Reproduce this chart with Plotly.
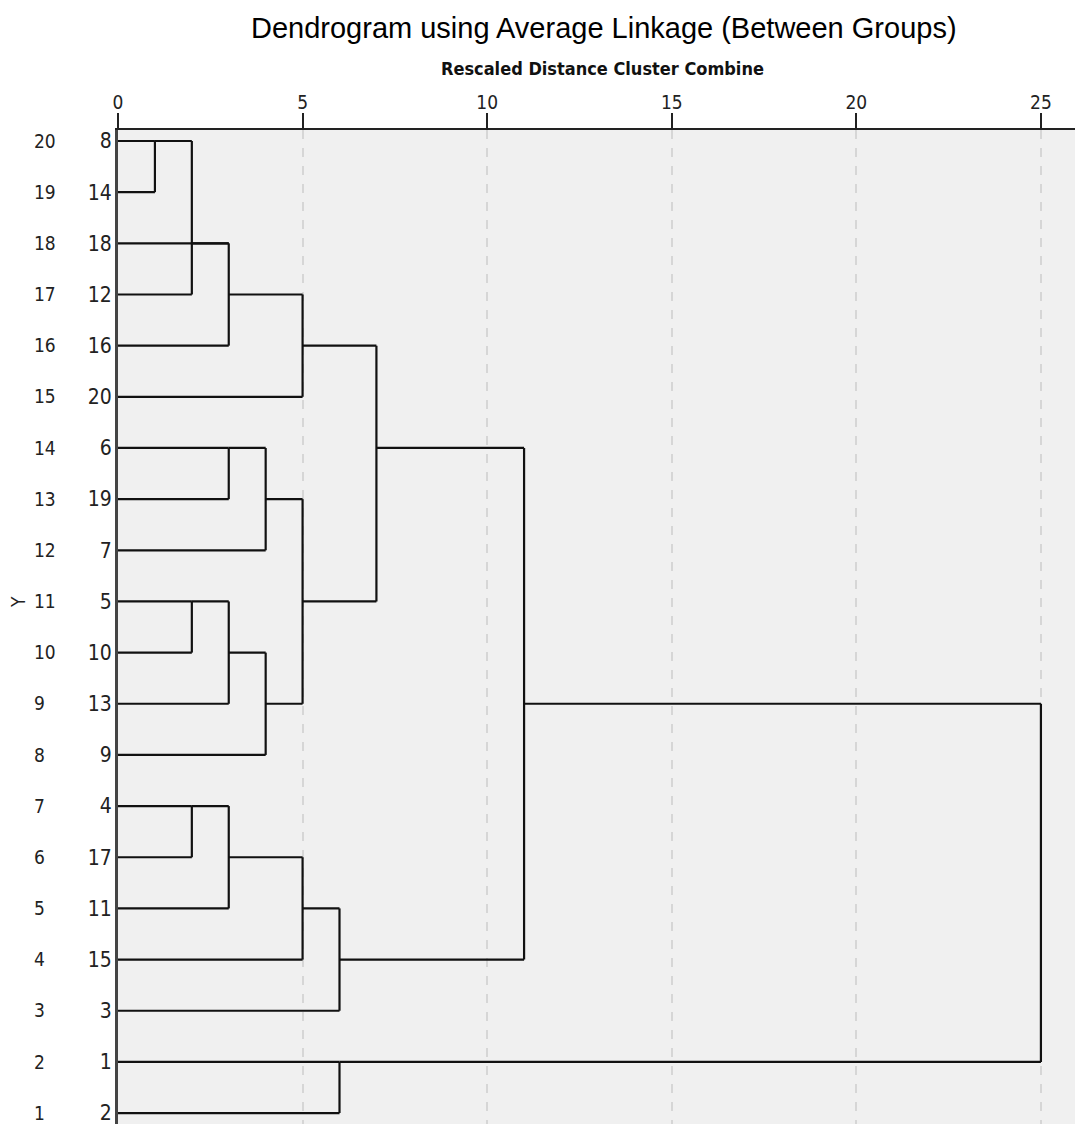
import plotly.graph_objects as go

# ---- data ----
case_labels = ["8", "14", "18", "12", "16", "20", "6", "19", "7", "5",
               "10", "13", "9", "4", "17", "11", "15", "3", "1", "2"]   # top to bottom
row_positions = list(range(20, 0, -1))                                     # 20 .. 1
y_tick_values = list(range(1, 21))
y_tick_labels = [str(v) for v in y_tick_values]
x_tick_values = [0, 5, 10, 15, 20, 25]

# merges: (name, children, rescaled distance, row where the merged branch leaves)
merge_names = ["A", "B", "C", "D", "E", "F", "G", "H", "I", "J", "K", "L", "M", "N", "O", "P", "Q", "R"]
merge_children = [["8", "14"], ["A", "12"], ["B", "18", "16"], ["C", "20"], ["6", "19"],
                  ["E", "7"], ["5", "10"], ["G", "13"], ["H", "9"], ["F", "I"], ["D", "J"],
                  ["4", "17"], ["L", "11"], ["M", "15"], ["N", "3"], ["K", "O"], ["1", "2"], ["P", "Q"]]
merge_distance = [1, 2, 3, 5, 3, 4, 2, 3, 4, 5, 7, 2, 3, 5, 6, 11, 6, 25]
merge_out_row = [20, 18, 17, 16, 14, 13, 11, 10, 9, 11, 14, 7, 6, 5, 4, 9, 2, None]

# ---- build segments ----
node_row = {lab: r for lab, r in zip(case_labels, row_positions)}
node_dist = {lab: 0 for lab in case_labels}
xs, ys = [], []
for name, kids, d, out in zip(merge_names, merge_children, merge_distance, merge_out_row):
    rows = [node_row[k] for k in kids]
    for k in kids:
        xs += [node_dist[k], d, None]
        ys += [node_row[k], node_row[k], None]
    xs += [d, d, None]
    ys += [min(rows), max(rows), None]
    node_row[name] = out
    node_dist[name] = d

# page is drawn with an 8px body margin -> work in figure pixels (page px - 8)
OFF = 8
W, H = 1083 - OFF, 1124 - OFF
L, T = 118 - OFF, 130 - OFF
narrow = "DejaVu Sans Condensed, Liberation Sans Narrow, Arial Narrow, sans-serif"


def px_x(p):
    return (p - OFF) / W


def px_y(p):
    return 1 + (T - (p - OFF)) / (H - T)


fig = go.Figure()
fig.add_trace(go.Scatter(x=xs, y=ys, mode="lines",
                         line=dict(color="#111111", width=2.2),
                         hoverinfo="skip", showlegend=False))
fig.add_trace(go.Scatter(x=[0, 0], y=[1, 20], yaxis="y2", mode="markers",
                         marker=dict(opacity=0), hoverinfo="skip", showlegend=False))

yr = [0.786, 20.215]
fig.update_layout(
    width=W, height=H,
    margin=dict(l=0, r=0, t=T, b=0, autoexpand=False),
    paper_bgcolor="white",
    plot_bgcolor="#f0f0f0",
    showlegend=False,
    xaxis=dict(domain=[L / W, 1], side="top", range=[0, 26.14], automargin=False,
               tickvals=x_tick_values, ticks="outside", ticklen=15, tickwidth=2,
               tickcolor="#222", showline=True, linecolor="#222", linewidth=2,
               showgrid=True, gridcolor="#d6d6d6", gridwidth=1.5, griddash="dash",
               zeroline=False, ticklabelstandoff=-4,
               tickfont=dict(family=narrow, size=19, color="#222")),
    yaxis=dict(range=yr, tickvals=row_positions, ticktext=case_labels, automargin=False,
               ticks="outside", ticklen=3, tickcolor="rgba(0,0,0,0)",
               showline=True, linecolor="#444", linewidth=3, ticklabelstandoff=-4,
               showgrid=False, zeroline=False, ticklabeloverflow="allow",
               tickfont=dict(family=narrow, size=21, color="#222")),
    yaxis2=dict(range=yr, overlaying="y", anchor="free", side="right", automargin=False,
                position=px_x(33), tickvals=y_tick_values, ticktext=y_tick_labels,
                ticks="", showline=False, showgrid=False, zeroline=False,
                ticklabeloverflow="allow",
                tickfont=dict(family=narrow, size=19, color="#222")),
    annotations=[
        dict(text="Dendrogram using Average Linkage (Between Groups)",
             xref="paper", yref="paper", x=px_x(604), y=px_y(28),
             xanchor="center", yanchor="middle", showarrow=False,
             font=dict(family="Liberation Sans, Arial, sans-serif", size=29, color="#000")),
        dict(text="<b>Rescaled Distance Cluster Combine</b>",
             xref="paper", yref="paper", x=px_x(602), y=px_y(69),
             xanchor="center", yanchor="middle", showarrow=False,
             font=dict(family=narrow, size=18, color="#111")),
        dict(text="Y", xref="paper", yref="paper", x=px_x(18), y=px_y(602),
             xanchor="center", yanchor="middle", showarrow=False, textangle=-90,
             font=dict(family=narrow, size=19, color="#222")),
    ],
)

fig.write_html("out.html")
